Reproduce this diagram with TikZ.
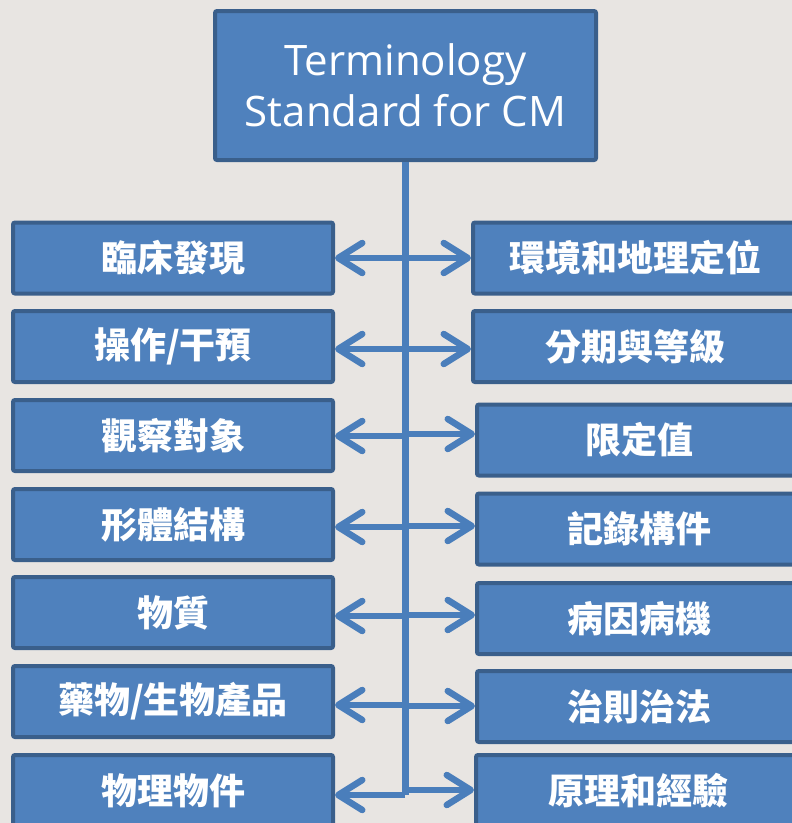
\documentclass[tikz,border=0pt]{standalone}
\usepackage{fontspec}
\setmainfont{Open Sans}
\newfontfamily\cjk{Noto Sans CJK TC}
\usetikzlibrary{arrows.meta}
\definecolor{bgc}{HTML}{E8E5E2}
\definecolor{boxfill}{HTML}{4F81BD}
\definecolor{boxline}{HTML}{3A5F8B}
\definecolor{arrc}{HTML}{4A7EBB}
\tikzset{
  box/.style={draw=boxline, fill=boxfill, line width=4pt, rounded corners=2pt,
    inner sep=0pt, text=white, anchor=center},
  lbox/.style={box, minimum width=320pt, minimum height=71pt,
    font=\cjk\bfseries\fontsize{36}{42}\selectfont},
  rbox/.style={box, minimum width=325pt, minimum height=71pt,
    font=\cjk\bfseries\fontsize{36}{42}\selectfont},
  arr/.style={draw=arrc, line width=6.5pt,
    -{Straight Barb[length=24pt, width=30pt, round]}},
  trunkline/.style={draw=arrc, line width=7pt},
}
\begin{document}
\begin{tikzpicture}[x=1pt, y=-1pt]
\useasboundingbox (0,0) rectangle (792,823);
\clip (0,0) rectangle (792,823);
\fill[bgc] (0,0) rectangle (792,823);
% top box
\node[box, minimum width=381pt, minimum height=149pt, align=center,
  font=\fontsize{42}{51}\selectfont] (top) at (405.5,85.5)
  {Terminology\\Standard for CM};
% trunk
\coordinate (tend) at (405,795);
\draw[trunkline] (top.south -| tend) -- (tend);
% left boxes
\node[lbox] (L1) at (173,258) {臨床發現};
\node[lbox] (L2) at (173,346.5) {操作/干預};
\node[lbox] (L3) at (173,435.5) {觀察對象};
\node[lbox] (L4) at (173,524.5) {形體結構};
\node[lbox] (L5) at (173,612.5) {物質};
\node[lbox] (L6) at (173,701.5) {藥物/生物產品};
\node[lbox] (L7) at (173,790.5) {物理物件};
% right boxes
\node[rbox] (R1) at (635.5,258) {環境和地理定位};
\node[rbox] (R2) at (635.5,346.5) {分期與等級};
\node[rbox] (R3) at (639.5,440) {限定值};
\node[rbox] (R4) at (639.5,529) {記錄構件};
\node[rbox] (R5) at (639.5,618.5) {病因病機};
\node[rbox] (R6) at (639.5,706.5) {治則治法};
\node[rbox] (R7) at (638.5,790.5) {原理和經驗};
% trunk points
\coordinate (a1) at (405,258);   \coordinate (b1) at (405,258);
\coordinate (a2) at (405,349);   \coordinate (b2) at (405,349);
\coordinate (a3) at (405,436);   \coordinate (b3) at (405,434);
\coordinate (a4) at (405,527);   \coordinate (b4) at (405,526);
\coordinate (a5) at (405,616);   \coordinate (b5) at (405,615);
\coordinate (a6) at (405,705);   \coordinate (b6) at (405,706);
\coordinate (a7) at (405,795);   \coordinate (b7) at (405,790);
\foreach \i in {1,...,7}{
  \draw[arr] (a\i) -- (a\i -| L\i.east);
  \draw[arr] (b\i) -- (b\i -| R\i.west);
}
\end{tikzpicture}
\end{document}
